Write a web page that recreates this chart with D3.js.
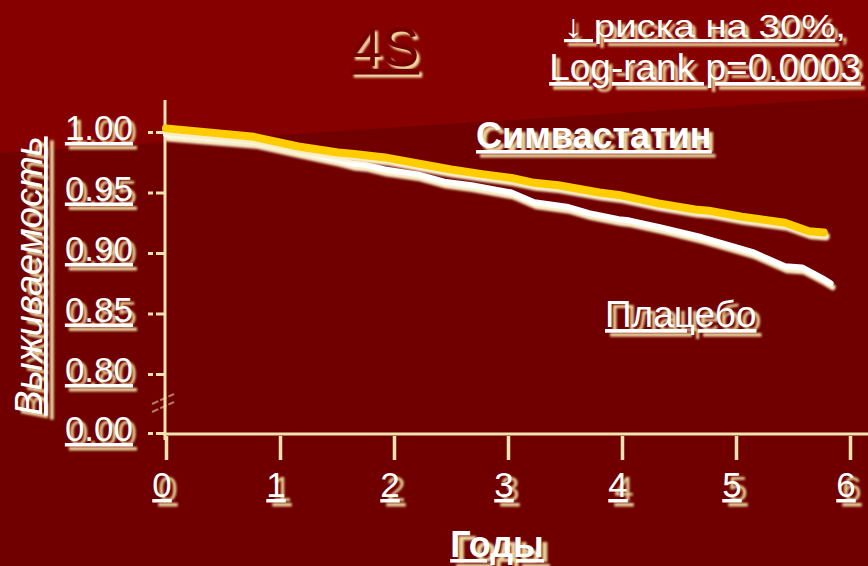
<!DOCTYPE html>
<html>
<head>
<meta charset="utf-8">
<script src="https://cdn.jsdelivr.net/npm/d3@7"></script>
<style>
  html, body { margin: 0; padding: 0; background: #700000; }
  svg { display: block; font-family: "Liberation Sans", Arial, sans-serif; }
</style>
</head>
<body>
<svg id="chart" width="868" height="566"></svg>
<script>
// Kaplan–Meier survival, 4S trial
const years = [0, 1, 2, 3, 4, 5, 6];
const survivalTicks = [0, 0.80, 0.85, 0.90, 0.95, 1.00];
const survivalTickLabels = ["0.00", "0.80", "0.85", "0.90", "0.95", "1.00"];

const simvaYears = [0, 0.77, 1.16, 1.51, 1.63, 1.92, 2.21, 2.50, 2.79, 3.03, 3.23, 3.44, 3.80, 3.97, 4.32, 4.64, 4.76, 5.05, 5.43, 5.64, 5.77];
const simvaSurvival = [1.003, 0.996, 0.988, 0.983, 0.982, 0.979, 0.974, 0.969, 0.965, 0.962, 0.958, 0.956, 0.950, 0.948, 0.941, 0.936, 0.935, 0.930, 0.925, 0.918, 0.917];

const placeboYears = [0, 0.77, 1.16, 1.51, 1.63, 1.74, 1.92, 2.21, 2.44, 2.68, 3.03, 3.23, 3.53, 3.71, 3.97, 4.06, 4.35, 4.70, 4.99, 5.14, 5.43, 5.58, 5.76, 5.83];
const placeboSurvival = [0.998, 0.992, 0.984, 0.977, 0.974, 0.973, 0.969, 0.965, 0.959, 0.956, 0.950, 0.942, 0.938, 0.933, 0.928, 0.927, 0.921, 0.913, 0.905, 0.901, 0.889, 0.888, 0.879, 0.875];

const titleText = "4S";
const noteLines = ["↓ риска на 30%,", "Log-rank p=0.0003"];
const yTitle = "Выживаемость";
const xTitle = "Годы";
const simvaName = "Симвастатин";
const placeboName = "Плацебо";

const W = 868, H = 566;
const CREAM = "#f3e3ae";
const SHADOW = "#e8d29a";

const svg = d3.select("#chart");
const defs = svg.append("defs");
defs.append("filter").attr("id", "soft")
  .attr("x", "-10%").attr("y", "-10%").attr("width", "120%").attr("height", "120%")
  .append("feGaussianBlur").attr("stdDeviation", 0.9);

// slide background: lighter band on top, darker field with a slanted edge
svg.append("rect").attr("width", W).attr("height", H).attr("fill", "#870000");
svg.append("polygon")
  .attr("points", `0,153 ${W},97 ${W},${H} 0,${H}`)
  .attr("fill", "#700000");

// broken y axis: 0 sits one step below 0.80
const x = d3.scaleLinear().domain([0, 6]).range([166, 850]);
const y = d3.scaleLinear().domain([0, 0.80, 1.00]).range([433, 374, 132]);

// text with a cream drop shadow and underline
function shadowText(parent, opts) {
  const g = parent.append("g").attr("transform", opts.transform || null);
  const common = t => t
    .attr("x", opts.x).attr("y", opts.y)
    .attr("text-anchor", opts.anchor || "start")
    .attr("font-size", opts.size)
    .attr("font-weight", opts.weight || "normal")
    .attr("font-style", opts.style || "normal")
    .attr("text-decoration", opts.underline === false ? null : "underline")
    .attr("textLength", opts.length || null)
    .attr("lengthAdjust", opts.length ? "spacingAndGlyphs" : null)
    .text(opts.text);
  common(g.append("text"))
    .attr("transform", `translate(${opts.sdx ?? 4},${opts.sdy ?? 4})`)
    .attr("fill", opts.shadow || SHADOW)
    .attr("filter", "url(#soft)");
  common(g.append("text")).attr("fill", opts.fill || "#ffffff");
  return g;
}

// axes
const yAxisG = svg.append("g").attr("transform", "translate(165,0)")
  .call(d3.axisLeft(y).tickValues(survivalTicks).tickSize(17).tickFormat(""));
yAxisG.select(".domain").remove();
yAxisG.selectAll(".tick line")
  .attr("stroke", CREAM).attr("stroke-width", 3).attr("stroke-dasharray", "9,3");

const xAxisG = svg.append("g").attr("transform", "translate(0,436)")
  .call(d3.axisBottom(x).tickValues(years).tickSize(24).tickFormat(""));
xAxisG.select(".domain").remove();
xAxisG.selectAll(".tick line").attr("stroke", CREAM).attr("stroke-width", 3.5);

svg.append("line").attr("x1", 165).attr("x2", 165).attr("y1", 100).attr("y2", 440)
  .attr("stroke", CREAM).attr("stroke-width", 3);
svg.append("line").attr("x1", 163).attr("x2", W).attr("y1", 434).attr("y2", 434)
  .attr("stroke", CREAM).attr("stroke-width", 3);

// axis break marks
[0, 8].forEach(off => {
  svg.append("line")
    .attr("x1", 152).attr("y1", 404 + off).attr("x2", 174).attr("y2", 394 + off)
    .attr("stroke", CREAM).attr("stroke-width", 2).attr("opacity", 0.55)
    .attr("stroke-dasharray", "7,2");
});

// tick labels
survivalTicks.forEach((v, i) => {
  shadowText(svg, { x: 133, y: y(v) + 8, anchor: "end", size: 35, text: survivalTickLabels[i], sdx: 4, sdy: 4 });
});
years.forEach(v => {
  shadowText(svg, { x: x(v) - 4, y: 497, anchor: "middle", size: 35, text: String(v), sdx: 6, sdy: 4 });
});

// axis titles
shadowText(svg, { x: 0, y: 0, anchor: "middle", size: 38, style: "italic", text: yTitle,
  transform: "translate(42,276) rotate(-90)", sdx: -4, sdy: 6 });
shadowText(svg, { x: 497, y: 557, anchor: "middle", size: 36, weight: "bold", text: xTitle, sdx: 6, sdy: 5 });

// survival curves
const line = d3.line().x(d => x(d[0])).y(d => y(d[1]));
const placeboPts = placeboYears.map((t, i) => [t, placeboSurvival[i]]);
const simvaPts = simvaYears.map((t, i) => [t, simvaSurvival[i]]);

function curve(pts, color, width) {
  svg.append("path").datum(pts).attr("d", line)
    .attr("transform", "translate(2,4)")
    .attr("fill", "none").attr("stroke", "#f8eec4").attr("stroke-width", width)
    .attr("stroke-linejoin", "round").attr("stroke-linecap", "round")
    .attr("filter", "url(#soft)");
  svg.append("path").datum(pts).attr("d", line)
    .attr("fill", "none").attr("stroke", color).attr("stroke-width", width)
    .attr("stroke-linejoin", "round").attr("stroke-linecap", "round");
}
curve(placeboPts, "#ffffff", 6);
curve(simvaPts, "#ffcc00", 8);

// series names
shadowText(svg, { x: 476, y: 148, size: 36, weight: "bold", text: simvaName, sdx: 4, sdy: 4 });
shadowText(svg, { x: 605, y: 327, size: 37, text: placeboName, sdx: 5, sdy: 4 });

// title
shadowText(svg, { x: 385, y: 66, anchor: "middle", size: 56, text: titleText,
  fill: "#740000", shadow: "#f3e0a8", sdx: 3, sdy: 3 });

// result note
shadowText(svg, { x: 705, y: 37, anchor: "middle", size: 32, text: noteLines[0], length: 282, sdx: 4, sdy: 4 });
shadowText(svg, { x: 705, y: 80, anchor: "middle", size: 37, text: noteLines[1], sdx: 4, sdy: 4 });
</script>
</body>
</html>
